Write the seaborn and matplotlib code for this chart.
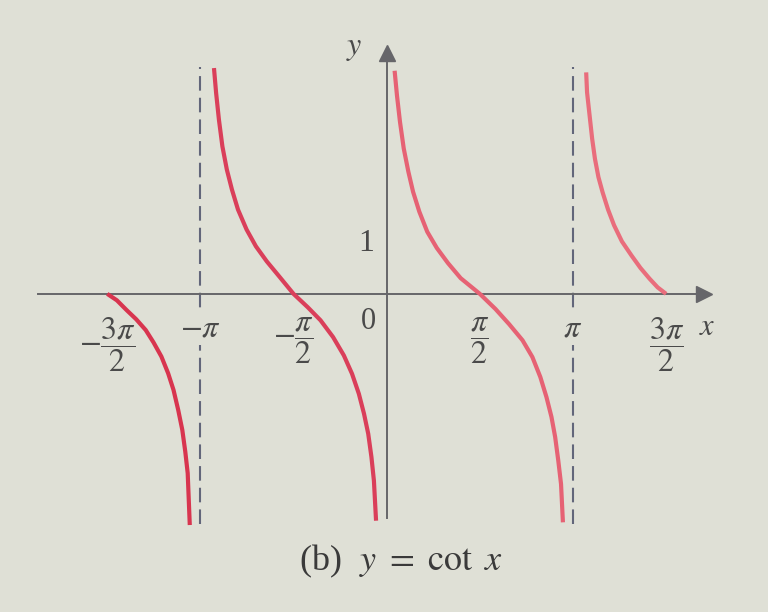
import numpy as np
import pandas as pd
import seaborn as sns
import matplotlib.pyplot as plt

# Các điểm (x theo radian, y = cot x)
branch1_x = [-4.712, -4.549, -4.386, -4.224, -4.063, -3.931, -3.799,
             -3.685, -3.594, -3.515, -3.446, -3.396, -3.355, -3.320]
branch1_y = [0.0, -0.12, -0.30, -0.47, -0.67, -0.90, -1.16,
             -1.47, -1.78, -2.15, -2.52, -2.92, -3.32, -4.28]

branch2_x = [-2.912, -2.876, -2.828, -2.770, -2.695, -2.609, -2.507, -2.362,
             -2.205, -2.021, -1.810, -1.571, -1.329, -1.115, -0.904, -0.722,
             -0.584, -0.469, -0.382, -0.311, -0.257, -0.215, -0.179]
branch2_y = [4.18, 3.72, 3.22, 2.73, 2.30, 1.93, 1.56, 1.19,
             0.88, 0.60, 0.32, 0.0, -0.25, -0.49, -0.80, -1.14,
             -1.48, -1.85, -2.22, -2.59, -3.02, -3.46, -4.20]

branch3_x = [0.134, 0.174, 0.225, 0.288, 0.366, 0.445, 0.551, 0.684,
             0.845, 1.033, 1.248, 1.571, 1.834, 2.064, 2.291, 2.457,
             2.591, 2.694, 2.779, 2.841, 2.894, 2.940, 2.972]
branch3_y = [4.13, 3.67, 3.18, 2.69, 2.26, 1.89, 1.52, 1.15,
             0.85, 0.57, 0.29, 0.0, -0.28, -0.56, -0.86, -1.17,
             -1.54, -1.91, -2.28, -2.65, -3.09, -3.52, -4.23]

branch4_x = [3.364, 3.379, 3.422, 3.465, 3.512, 3.571, 3.641, 3.733,
             3.834, 3.967, 4.128, 4.279, 4.433, 4.569, 4.712]
branch4_y = [4.10, 3.73, 3.30, 2.87, 2.50, 2.16, 1.88, 1.56,
             1.27, 0.97, 0.71, 0.48, 0.28, 0.12, 0.0]

asymptotes = [-np.pi, np.pi]
asym_top = 4.2
asym_bottom = -4.27

xtick_pos = [-3 * np.pi / 2, -np.pi, -np.pi / 2, np.pi / 2, np.pi, 3 * np.pi / 2]
xtick_labels = [r'$-\dfrac{3\pi}{2}$', r'$-\pi$', r'$-\dfrac{\pi}{2}$',
                r'$\dfrac{\pi}{2}$', r'$\pi$', r'$\dfrac{3\pi}{2}$']
ytick_pos = [-1, 1]
ytick_labels = ['', '1']

bg = '#dfe0d6'
axis_color = '#66666a'
text_color = '#4a4a4a'

rows = []
for name, xs, ys in [('b1', branch1_x, branch1_y), ('b2', branch2_x, branch2_y),
                     ('b3', branch3_x, branch3_y), ('b4', branch4_x, branch4_y)]:
    for x, y in zip(xs, ys):
        rows.append({'branch': name, 'x': x, 'y': y})
df = pd.DataFrame(rows)

sns.set_style('white')
plt.rcParams['font.family'] = ['Liberation Serif', 'DejaVu Serif']
plt.rcParams['mathtext.fontset'] = 'stix'

fig = plt.figure(figsize=(7.68, 6.12), dpi=100, facecolor=bg)
ax = fig.add_axes([0, 0, 1, 1])
ax.set_facecolor(bg)

palette = {'b1': '#d8354f', 'b2': '#da3f5a', 'b3': '#e66274', 'b4': '#e96d7c'}
sns.lineplot(data=df, x='x', y='y', hue='branch', palette=palette,
             estimator=None, sort=False, linewidth=3.0, legend=False, ax=ax,
             solid_capstyle='butt', solid_joinstyle='round', zorder=3)

# đường tiệm cận
ax.vlines(asymptotes, asym_bottom, asym_top, colors='#62667a',
          linewidth=1.5, linestyles=(0, (7, 3.4)), zorder=1)

ax.set_xlim(-6.52, 6.43)
ax.set_ylim(-5.89, 5.44)
ax.set_axisbelow(False)

# trục tọa độ đi qua gốc
for s in ['top', 'right']:
    ax.spines[s].set_visible(False)
ax.spines['bottom'].set_position(('data', 0))
ax.spines['left'].set_position(('data', 0))
ax.spines['bottom'].set_bounds(-5.88, 5.35)
ax.spines['left'].set_bounds(-4.15, 4.45)
for s in ['bottom', 'left']:
    ax.spines[s].set_color(axis_color)
    ax.spines[s].set_linewidth(1.4)

ax.plot(5.35, 0, marker='>', markersize=11, color=axis_color, clip_on=False)
ax.plot(0, 4.45, marker='^', markersize=11, color=axis_color, clip_on=False)

ax.set_xticks(xtick_pos)
ax.set_xticklabels(xtick_labels)
ax.set_yticks(ytick_pos)
ax.set_yticklabels(ytick_labels)
ax.tick_params(axis='both', direction='inout', length=12, width=1.4,
               color=axis_color, labelsize=23, labelcolor=text_color)
ax.tick_params(axis='x', pad=9)
ax.tick_params(axis='y', pad=3)
for lab in ax.get_xticklabels():
    lab.set_bbox(dict(facecolor=bg, edgecolor='none', pad=1))
ax.set_xlabel('')
ax.set_ylabel('')

ax.text(-0.3, -0.25, '0', fontsize=22, color=text_color, ha='center', va='top')
ax.text(5.4, -0.35, r'$x$', fontsize=22, color=text_color, ha='center', va='top')
ax.text(-0.55, 4.55, r'$y$', fontsize=23, color=text_color, ha='center', va='center')

fig.text(0.522, 0.082, r'(b)  $y\ =\ \cot\ x$', fontsize=26, color='#3a3a3a',
         ha='center', va='center')

fig.savefig('out.png', dpi=100, facecolor=bg)
